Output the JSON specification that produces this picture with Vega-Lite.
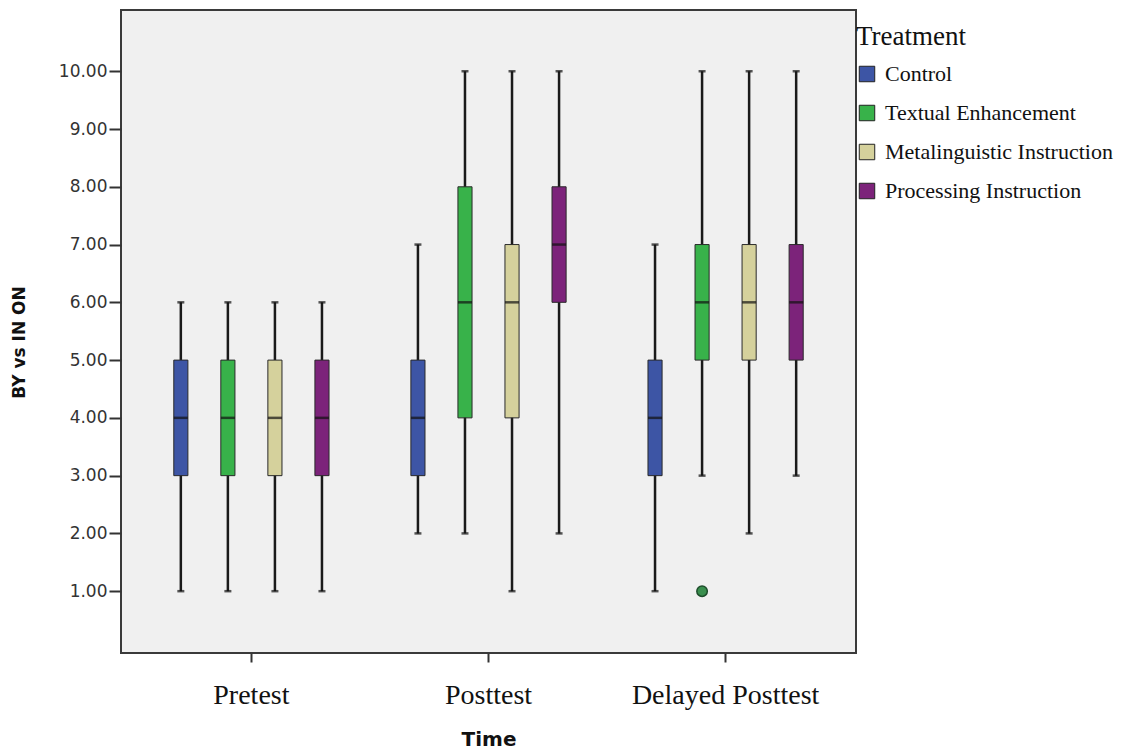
{
  "$schema": "https://vega.github.io/schema/vega-lite/v6.json",
  "width": 735,
  "height": 643,
  "autosize": "none",
  "padding": {"left": 121, "top": 10, "right": 268, "bottom": 96},
  "background": "white",
  "config": {
    "view": {"fill": "#f0f0f0", "stroke": "#3a3a3a", "strokeWidth": 2}
  },
  "data": {
    "values": [
      {"time": "Pretest", "treatment": "Control", "min": 1, "q1": 3, "median": 4, "q3": 5, "max": 6},
      {"time": "Pretest", "treatment": "Textual Enhancement", "min": 1, "q1": 3, "median": 4, "q3": 5, "max": 6},
      {"time": "Pretest", "treatment": "Metalinguistic Instruction", "min": 1, "q1": 3, "median": 4, "q3": 5, "max": 6},
      {"time": "Pretest", "treatment": "Processing Instruction", "min": 1, "q1": 3, "median": 4, "q3": 5, "max": 6},
      {"time": "Posttest", "treatment": "Control", "min": 2, "q1": 3, "median": 4, "q3": 5, "max": 7},
      {"time": "Posttest", "treatment": "Textual Enhancement", "min": 2, "q1": 4, "median": 6, "q3": 8, "max": 10},
      {"time": "Posttest", "treatment": "Metalinguistic Instruction", "min": 1, "q1": 4, "median": 6, "q3": 7, "max": 10},
      {"time": "Posttest", "treatment": "Processing Instruction", "min": 2, "q1": 6, "median": 7, "q3": 8, "max": 10},
      {"time": "Delayed Posttest", "treatment": "Control", "min": 1, "q1": 3, "median": 4, "q3": 5, "max": 7},
      {"time": "Delayed Posttest", "treatment": "Textual Enhancement", "min": 3, "q1": 5, "median": 6, "q3": 7, "max": 10},
      {"time": "Delayed Posttest", "treatment": "Metalinguistic Instruction", "min": 2, "q1": 5, "median": 6, "q3": 7, "max": 10},
      {"time": "Delayed Posttest", "treatment": "Processing Instruction", "min": 3, "q1": 5, "median": 6, "q3": 7, "max": 10}
    ]
  },
  "encoding": {
    "x": {
      "field": "time",
      "type": "nominal",
      "sort": ["Pretest", "Posttest", "Delayed Posttest"],
      "scale": {"paddingInner": 0, "paddingOuter": 0.05},
      "title": "Time",
      "axis": {
        "labelAngle": 0,
        "domain": false,
        "tickSize": 9,
        "tickColor": "#333",
        "tickWidth": 2,
        "labelFont": "Liberation Serif",
        "labelFontSize": 28,
        "labelColor": "#111",
        "labelPadding": 19,
        "labelLimit": 400,
        "titleFont": "DejaVu Sans",
        "titleFontWeight": "bold",
        "titleFontSize": 20,
        "titleColor": "#111",
        "titlePadding": 20
      }
    },
    "xOffset": {
      "field": "treatment",
      "type": "nominal",
      "sort": ["Control", "Textual Enhancement", "Metalinguistic Instruction", "Processing Instruction"],
      "scale": {"paddingInner": 0.7, "paddingOuter": 0.87}
    }
  },
  "layer": [
    {
      "mark": {"type": "rule", "color": "#1a1a1a", "strokeWidth": 2.5},
      "encoding": {
        "y": {
          "field": "min",
          "type": "quantitative",
          "scale": {"domain": [-0.07, 11.06], "nice": false, "zero": false},
          "title": "BY vs IN ON",
          "axis": {
            "values": [1, 2, 3, 4, 5, 6, 7, 8, 9, 10],
            "format": ".2f",
            "domain": false,
            "grid": false,
            "tickSize": 12,
            "tickColor": "#333",
            "tickWidth": 2,
            "labelPadding": 2,
            "labelFont": "DejaVu Sans",
            "labelFontSize": 17,
            "labelColor": "#333",
            "titleFont": "DejaVu Sans",
            "titleFontWeight": "bold",
            "titleFontSize": 17,
            "titleColor": "#111",
            "titlePadding": 30,
            "titleY": 332
          }
        },
        "y2": {"field": "max"}
      }
    },
    {
      "mark": {"type": "bar", "stroke": "#2a2a2a", "strokeWidth": 1},
      "encoding": {
        "y": {"field": "q1", "type": "quantitative"},
        "y2": {"field": "q3"},
        "color": {
          "field": "treatment",
          "type": "nominal",
          "sort": ["Control", "Textual Enhancement", "Metalinguistic Instruction", "Processing Instruction"],
          "scale": {
            "domain": ["Control", "Textual Enhancement", "Metalinguistic Instruction", "Processing Instruction"],
            "range": ["#3d55a5", "#38b24a", "#d5d19c", "#7c237a"]
          },
          "legend": {
            "orient": "none",
            "legendX": 735,
            "legendY": 14,
            "padding": 0,
            "title": "Treatment",
            "titleFont": "Liberation Serif",
            "titleFontSize": 27,
            "titleFontWeight": "normal",
            "titleColor": "#111",
            "titlePadding": 12,
            "labelFont": "Liberation Serif",
            "labelFontSize": 22,
            "labelColor": "#111",
            "labelOffset": 7,
            "rowPadding": 17,
            "symbolType": "square",
            "symbolSize": 240,
            "symbolStrokeColor": "#222",
            "symbolStrokeWidth": 1,
            "labelLimit": 300
          }
        }
      }
    },
    {
      "mark": {"type": "tick", "color": "#111", "size": 14, "thickness": 2.5},
      "encoding": {"y": {"field": "median", "type": "quantitative"}}
    },
    {
      "mark": {"type": "tick", "color": "#111", "size": 7, "thickness": 2.5},
      "encoding": {"y": {"field": "min", "type": "quantitative"}}
    },
    {
      "mark": {"type": "tick", "color": "#111", "size": 7, "thickness": 2.5},
      "encoding": {"y": {"field": "max", "type": "quantitative"}}
    },
    {
      "data": {"values": [{"time": "Delayed Posttest", "treatment": "Textual Enhancement", "value": 1}]},
      "mark": {"type": "point", "shape": "circle", "filled": true, "size": 110, "fill": "#3a8f4e", "stroke": "#1e4d2b", "strokeWidth": 1.5, "opacity": 1},
      "encoding": {"y": {"field": "value", "type": "quantitative"}}
    }
  ]
}
